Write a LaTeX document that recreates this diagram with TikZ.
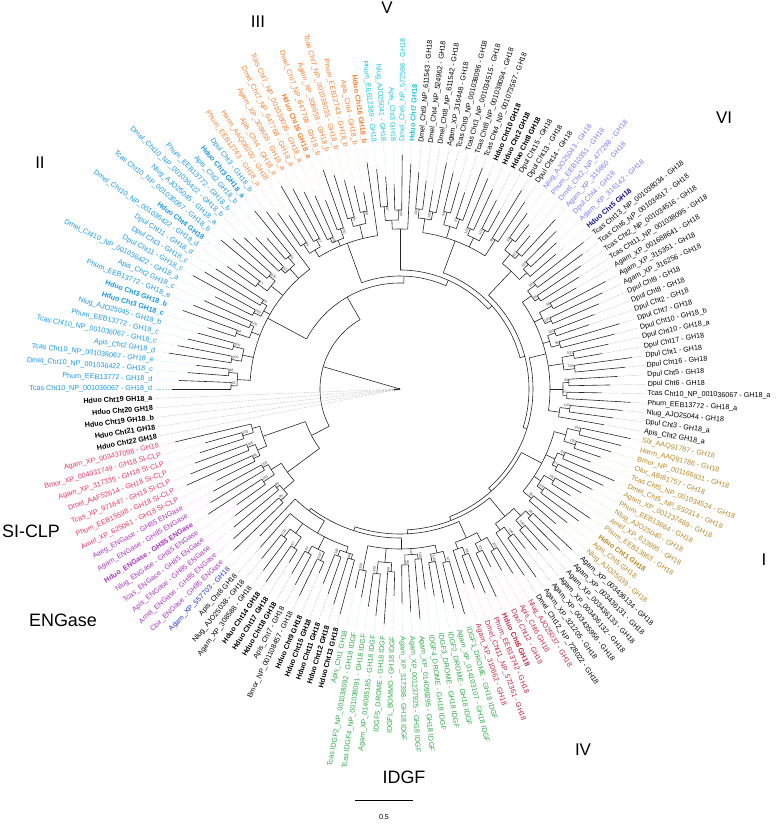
\documentclass[tikz,border=0pt]{standalone}
\usepackage{fontspec}
\setmainfont{Liberation Sans}

\definecolor{cII}{RGB}{25,150,230}
\definecolor{cIII}{RGB}{250,125,45}
\definecolor{cV}{RGB}{20,200,215}
\definecolor{cVI}{RGB}{120,120,245}
\definecolor{cNavy}{RGB}{20,20,140}
\definecolor{cI}{RGB}{185,135,35}
\definecolor{cIV}{RGB}{200,30,60}
\definecolor{cIDGF}{RGB}{45,170,70}
\definecolor{cSIC}{RGB}{240,50,95}
\definecolor{cENG}{RGB}{170,50,190}
\definecolor{cAg}{RGB}{40,50,210}

%% leaf number -> angle, and a tip radius per leaf
\pgfmathdeclarefunction{leafang}{1}{\pgfmathparse{180-((#1)-1)*2.20858896}}
\pgfmathdeclarefunction{tiprad}{1}{\pgfmathparse{200+mod((#1)*29,37)}}

\tikzset{
  br/.style={line width=0.6pt, black!85},
  tipdot/.style={densely dotted, line width=0.45pt},
  lab/.style={font=\fontsize{7.2}{8}\selectfont, inner sep=0.6pt},
  boot/.style={font=\fontsize{3.6}{4}\selectfont, inner sep=0.3pt, text=black!75},
  clade title/.style={font=\fontsize{17}{20}\selectfont},
  group title/.style={font=\fontsize{18}{21}\selectfont}
}

\newcommand\tipleaf[3]{% leaf, parent radius, colour
  \pgfmathsetmacro\lA{leafang(#1)}%
  \pgfmathsetmacro\lT{tiprad(#1)}%
  \draw[br] (\lA:#2) -- (\lA:\lT);
  \draw[tipdot,#3!40] (\lA:\lT) -- (\lA:245);
}
\newcommand\cherrypair[4]{% first leaf, parent radius, node radius, colour
  \pgfmathsetmacro\cA{leafang(#1)}%
  \pgfmathsetmacro\cB{leafang((#1)+1)}%
  \pgfmathsetmacro\cM{leafang((#1)+0.5)}%
  \pgfmathtruncatemacro\cN{#1}%
  \draw[br] (\cM:#2) -- (\cM:#3);
  \draw[br] (\cA:#3) arc[start angle=\cA, end angle=\cB, radius=#3];
  \pgfmathtruncatemacro\cS{mod((#1)*7,11)<6 ? 100 : 88+mod((#1)*7,11)}%
  \pgfmathtruncatemacro\cR{abs(\cM)<90 ? 1 : 0}%
  \ifnum\cR=1
    \node[boot,anchor=east,rotate=\cM] (boot\cN) at (\cM+0.9:#3) {\cS};
  \else
    \node[boot,anchor=west,rotate=\cM+180] (boot\cN) at (\cM-0.9:#3) {\cS};
  \fi
  \tipleaf{#1}{#3}{#4}\tipleaf{(#1)+1}{#3}{#4}%
}
\newcommand\cladejoin[5]{% first child mid, last child mid, node radius, parent radius, store
  \pgfmathsetmacro\jA{leafang(#1)}\pgfmathsetmacro\jB{leafang(#2)}%
  \pgfmathsetmacro\jM{((#1)+(#2))/2}\pgfmathsetmacro\jC{leafang(\jM)}%
  \draw[br] (\jA:#3) arc[start angle=\jA, end angle=\jB, radius=#3];
  \draw[br] (\jC:#4) -- (\jC:#3);
  \xdef#5{\jM}%
}
\newcommand\cladegroup[6]{% first leaf, last leaf, node radius, parent radius, store, colour
  \pgfmathtruncatemacro\gN{mod(#2-#1+1,4)}%
  \ifcase\gN \pgfmathsetmacro\gL{#2-1.5}\or \pgfmathsetmacro\gL{#2}\or
    \pgfmathsetmacro\gL{#2-0.5}\or \pgfmathsetmacro\gL{#2-0.75}\fi
  \pgfmathsetmacro\gF{#1+1.5}%
  \cladejoin{\gF}{\gL}{#3}{#4}{#5}%
  \pgfmathtruncatemacro\gQ{#1+4}%
  \foreach \q in {#1,\gQ,...,#2} {
    \pgfmathtruncatemacro\qN{min(#2-\q+1,4)}%
    \pgfmathsetmacro\tRq{#3+6+mod(\q*7,10)}%
    \pgfmathsetmacro\tRc{\tRq+5+mod(\q*11,10)}%
    \pgfmathsetmacro\tRd{\tRq+4+mod(\q*5,9)}%
    \ifcase\qN\or
      \tipleaf{\q}{#3}{#6}%
    \or
      \cherrypair{\q}{#3}{\tRc}{#6}%
    \or
      \cladejoin{\q+0.5}{\q+2}{\tRq}{#3}{\qmid}%
      \cherrypair{\q}{\tRq}{\tRc}{#6}\tipleaf{\q+2}{\tRq}{#6}%
    \or
      \cladejoin{\q+0.5}{\q+2.5}{\tRq}{#3}{\qmid}%
      \cherrypair{\q}{\tRq}{\tRc}{#6}\cherrypair{\q+2}{\tRq}{\tRd}{#6}%
    \fi
  }%
}
\newcommand\leaflabels[3]{% first leaf, colour, texts
  \foreach \lbl [count=\idx from #1] in {#3} {
    \pgfmathsetmacro\lA{leafang(\idx)}%
    \pgfmathtruncatemacro\lR{abs(\lA)<90 ? 1 : 0}%
    \ifnum\lR=1
      \node[lab,text=#2,anchor=west,rotate=\lA] (leaf\idx) at (\lA:247) {\lbl};
    \else
      \node[lab,text=#2,anchor=east,rotate=\lA+180] (leaf\idx) at (\lA:247) {\lbl};
    \fi
  }%
}

\begin{document}
\catcode`\_=12
\begin{tikzpicture}[x=1bp,y=1bp]
  \useasboundingbox (-400,-444) rectangle (378,389);

  %% clades
  \cladegroup{1}{25}{150}{106}{\gmII}{cII}
  \cladegroup{26}{38}{155}{113}{\gmIII}{cIII}
  \cladegroup{39}{43}{160}{119}{\gmV}{cV}
  \cladegroup{44}{57}{158}{124}{\gmTop}{black}
  \cladegroup{58}{64}{162}{129}{\gmVI}{cVI}
  \cladegroup{65}{87}{150}{133}{\gmRight}{black}
  \cladegroup{88}{101}{160}{137}{\gmI}{cI}
  \cladegroup{102}{108}{165}{141}{\gmAg}{black}
  \cladegroup{109}{115}{163}{145}{\gmIV}{cIV}
  \cladegroup{116}{129}{160}{149}{\gmIDGF}{cIDGF}
  \cladegroup{130}{142}{166}{152}{\gmBL}{black}
  \tipleaf{143}{152}{cAg}
  \cladegroup{144}{151}{140}{100}{\gmENG}{cENG}
  \cladegroup{152}{158}{145}{100}{\gmSIC}{cSIC}

  %% backbone
  \cladejoin{\gmBL}{143}{152}{149}{\jnBL}
  \cladejoin{\gmIDGF}{\jnBL}{149}{145}{\jnIDGF}
  \cladejoin{\gmIV}{\jnIDGF}{145}{141}{\jnIV}
  \cladejoin{\gmAg}{\jnIV}{141}{137}{\jnAg}
  \cladejoin{\gmI}{\jnAg}{137}{133}{\jnI}
  \cladejoin{\gmRight}{\jnI}{133}{129}{\jnRight}
  \cladejoin{\gmVI}{\jnRight}{129}{124}{\jnVI}
  \cladejoin{\gmTop}{\jnVI}{124}{119}{\jnTop}
  \cladejoin{\gmV}{\jnTop}{119}{113}{\jnV}
  \cladejoin{\gmIII}{\jnV}{113}{106}{\jnIII}
  \cladejoin{\gmII}{\jnIII}{106}{80}{\jnII}
  \cladejoin{\gmENG}{\gmSIC}{100}{80}{\jnS}
  \cladejoin{\jnS}{\jnII+163}{80}{0}{\jnRoot}

  %% Hduo Cht19-22 from the root
  \foreach \idx in {159,...,163} {
    \pgfmathsetmacro\lA{leafang(\idx)}
    \draw[br] (0,0) -- (\lA:6);
    \draw[tipdot,black!40] (\lA:6) -- (\lA:245);
  }

  %% leaf labels
  \leaflabels{1}{cII}{Tcas Cht10_NP_001036067 - GH18_d, Phum_EEB13772 - GH18_d,
    Dmel_Cht10_NP_001036422 - GH18_c, Tcas Cht10_NP_001036067 - GH18_e, Apis_Cht2 GH18_d,
    Tcas Cht10_NP_001036067 - GH18_c, Phum_EEB13772 - GH18_c, Nlug_AJO25045 - GH18_b,
    \bfseries Hduo Cht3 GH18_c, \bfseries Hduo Cht3 GH18_b, Phum_EEB13772 - GH18_e,
    Apis_Cht2 GH18_c, Dmel_Cht10_NP_001036422 - GH18_a, Dpul Cht11 - GH18_c,
    Dpul Cht3 - GH18_c, Dpul Cht11 - GH18_d, Dmel_Cht10_NP_001036422 - GH18_d,
    \bfseries Hduo Cht4 GH18, Tcas Cht10_NP_001036067 - GH18_b, Nlug_AJO25045 - GH18_a,
    Dmel_Cht10_NP_001036422 - GH18_b, Phum_EEB13772 - GH18_b, Apis_Cht2 GH18_b,
    \bfseries Hduo Cht3 GH18_a, Dpul Cht3 - GH18_b}
  \leaflabels{26}{cIII}{Phum_EEB12743 - GH18_a, Harm_AAQ08200 - GH18, Apis_Cht4 - GH18_a,
    Agam_XP_308658 - GH18_a, Dmel_Cht7_NP_647768 - GH18_a, Tcas Cht7_NP_001038035 - GH18_a,
    \bfseries Hduo Cht16 GH18_a, Dmel_Cht7_NP_647768 - GH18_b, Agam_XP_308658 - GH18_b,
    Tcas Cht7_NP_001038035 - GH18_b, Phum_EEB12743 - GH18_b, Apis_Cht4 - GH18_b,
    \bfseries Hduo Cht16 GH18_b}
  \leaflabels{39}{cV}{Phum_EEB12389 - GH18, Nlug_AJO25041 - GH18, Apis_Cht3 GH18,
    Dmel_Cht6_NP_572598 - GH18, \bfseries Hduo Cht7 GH18}
  \leaflabels{44}{black}{Dmel_Cht9_NP_611543 - GH18, Dmel_Cht4_NP_524962 - GH18,
    Dmel_Cht8_NP_611542 - GH18, Agam_XP_316448 - GH18, Tcas Cht9_NP_001038096 - GH18,
    Tcas Cht3_NP_001034515 - GH18, Tcas Cht8_NP_001038094 - GH18, Tcas Cht4_NP_001073567 - GH18,
    \bfseries Hduo Cht10 GH18, \bfseries Hduo Cht2 GH18, \bfseries Hduo Cht8 GH18,
    Dpul Cht15 - GH18, Dpul Cht13 - GH18, Dpul Cht14 - GH18}
  \leaflabels{58}{cVI}{Nlug_AJO25043 - GH18, Phum_EEB10351 - GH18, Dmel_Cht2_NP_477298 - GH18,
    Agam_XP_315650 - GH18, Dpul Cht4 - GH18, Agam_XP_316142 - GH18}
  \leaflabels{64}{cNavy}{\bfseries Hduo Cht5 GH18}
  \leaflabels{65}{black}{Tcas Cht13_NP_001038034 - GH18, Tcas Cht6_NP_001034517 - GH18,
    Tcas Cht2_NP_001034516 - GH18, Tcas Cht11_NP_001038095 - GH18, Agam_XP_001688641 - GH18,
    Agam_XP_315351 - GH18, Agam_XP_316256 - GH18, Dpul Cht9 - GH18, Dpul Cht8 - GH18,
    Dpul Cht2 - GH18, Dpul Cht7 - GH18, Dpul Cht10 - GH18_b, Dpul Cht10 - GH18_a,
    Dpul Cht17 - GH18, Dpul Cht1 - GH18, Dpul Cht16 - GH18, Dpul Cht5 - GH18, Dpul Cht6 - GH18,
    Tcas Cht10_NP_001036067 - GH18_a, Phum_EEB13772 - GH18_a, Nlug_AJO25044 - GH18,
    Dpul Cht3 - GH18_a, Apis_Cht2 GH18_a}
  \leaflabels{88}{cI}{Slit_AAQ91787 - GH18, Harm_AAQ91786 - GH18, Bmor_NP_001166831 - GH18,
    Olur_ABI81757 - GH18, Tcas Cht5_NP_001034524 - GH18, Dmel_Cht5_NP_650314 - GH18,
    Agam_XP_001237469 - GH18, Phum_EEB13864 - GH18, Nlug_AJO25040 - GH18, Amel_XP_623995 - GH18,
    Phum_EEB13863 - GH18, \bfseries Hduo Cht1 GH18, Apis_Cht5 GH18, Nlug_AJO25039 - GH18}
  \leaflabels{102}{black}{Agam_XP_003436134 - GH18, Agam_XP_003436131 - GH18,
    Agam_XP_003436133 - GH18, Agam_XP_003436132 - GH18, Agam_XP_003435956 - GH18,
    Agam_XP_321205 - GH18, Dmel_Cht12_NP_728022 - GH18}
  \leaflabels{109}{cIV}{Nlug_AJO25037 - GH18, Apis_Cht6 GH18, Dpul Cht12 - GH18,
    \bfseries Hduo Cht6 GH18, Phum_EEB13742 - GH18, Dmel_Cht11_NP_572361 - GH18,
    Agam_XP_310662 - GH18}
  \leaflabels{116}{cIDGF}{IDGF1_DROME - GH18 IDGF, Agam_XP_014103107 - GH18 IDGF,
    IDGF2_DROME - GH18 IDGF, IDGF3_DROME - GH18 IDGF, IDGF4_DROME - GH18 IDGF,
    Agam_XP_014099295 - GH18 IDGF, Agam_XP_001237925 - GH18 IDGF, Agam_XP_317398 - GH18 IDGF,
    IDGFL_BOMMO - GH18 IDGF, IDGF5_DROME - GH18 IDGF, Agam_XP_014085185 - GH18 IDGF,
    Tcas IDGF4_NP_001038091 - GH18 IDGF, Tcas IDGF2_NP_001038092 - GH18 IDGF, Apis_Cht1 GH18}
  \leaflabels{130}{black}{\bfseries Hduo Cht13 GH18, \bfseries Hduo Cht12 GH18,
    \bfseries Hduo Cht11 GH18, \bfseries Hduo Cht15 GH18, \bfseries Hduo Cht9 GH18,
    Bmor_NP_001108457 - GH18, Apis_Cht7 - GH18, \bfseries Hduo Cht18 GH18,
    \bfseries Hduo Cht17 GH18, \bfseries Hduo Cht14 GH18, Agam_XP_308588 - GH18,
    Nlug_AJO25038 - GH18, Apis_Cht8 GH18}
  \leaflabels{143}{cAg}{Agam_XP_557703 - GH18}
  \leaflabels{144}{cENG}{Cbir_ENGase - GH85 ENGase, Amel_ENGase - GH85 ENGase,
    Apis_ENGase - GH85 ENGase, Tcas_ENGase - GH85 ENGase, Nlug_ENGase - GH85 ENGase,
    \bfseries Hduo_ENGase - GH85 ENGase, Agam_ENGase - GH85 ENGase, Aaeg_ENGase - GH85 ENGase}
  \leaflabels{152}{cSIC}{Amel_XP_625061 - GH18 SI-CLP, Phum_EEB15598 - GH18 SI-CLP,
    Tcas_XP_971647 - GH18 SI-CLP, Dmel_AAF52614 - GH18 SI-CLP, Agam_XP_317335 - GH18 SI-CLP,
    Bmor_XP_004931749 - GH18 SI-CLP, Agam_XP_003437098 - GH18}
  \leaflabels{159}{black}{\bfseries Hduo Cht22 GH18, \bfseries Hduo Cht21 GH18,
    \bfseries Hduo Cht19 GH18_b, \bfseries Hduo Cht20 GH18, \bfseries Hduo Cht19 GH18_a}

  %% clade names
  \node[clade title] (tII) at (-360,226) {II};
  \node[clade title] (tIII) at (-142,367) {III};
  \node[clade title] (tV) at (-13,381) {V};
  \node[clade title] (tVI) at (324,271) {VI};
  \node[clade title] (tI) at (364,-171) {I};
  \node[clade title] (tIV) at (183,-361) {IV};
  \node[group title] (tIDGF) at (4,-388) {IDGF};
  \node[group title] (tENG) at (-337,-231) {ENGase};
  \node[group title] (tSIC) at (-369,-142) {SI-CLP};

  %% scale bar
  \coordinate (sbL) at (-45,-411);
  \coordinate (sbR) at (13,-411);
  \draw[line width=0.6pt] (sbL) -- (sbR);
  \node[lab] (sbT) at (-16,-428) {0.5};
\end{tikzpicture}
\end{document}
